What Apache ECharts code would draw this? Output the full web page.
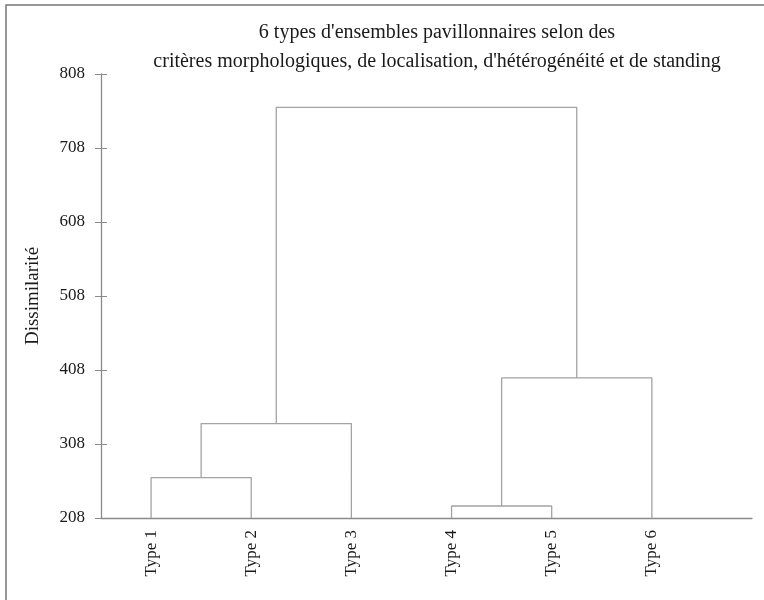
<!DOCTYPE html>
<html>
<head>
<meta charset="utf-8">
<script src="https://cdn.jsdelivr.net/npm/echarts@6/dist/echarts.min.js"></script>
<style>
  html, body { margin: 0; padding: 0; background: #fff; }
  #chart { width: 764px; height: 600px; }
</style>
</head>
<body>
<div id="chart"></div>
<script>
// feuilles du dendrogramme
var leafNames = ['Type 1', 'Type 2', 'Type 3', 'Type 4', 'Type 5', 'Type 6'];
var leafPos = [1, 2, 3, 4, 5, 6];
var baseHeight = 208;
// regroupements : enfant A, enfant B, niveau (indices >= 6 = groupes précédents)
var mergeA = [0, 3, 6, 7, 8];
var mergeB = [1, 4, 2, 5, 9];
var mergeHeight = [262.6, 224.2, 335.6, 397.3, 763];
var yTicks = [208, 308, 408, 508, 608, 708, 808];

var lineColor = '#a3a3a3';
var textColor = '#1a1a1a';
var font = 'Liberation Serif';

// position et hauteur de chaque noeud
var nodeX = leafPos.slice();
var nodeH = leafPos.map(function () { return baseHeight; });
var series = [];
for (var i = 0; i < mergeA.length; i++) {
    var a = mergeA[i], b = mergeB[i], h = mergeHeight[i];
    series.push({
        type: 'line',
        symbol: 'none',
        silent: true,
        lineStyle: { color: lineColor, width: 1.3 },
        data: [[nodeX[a], nodeH[a]], [nodeX[a], h], [nodeX[b], h], [nodeX[b], nodeH[b]]]
    });
    nodeX.push((nodeX[a] + nodeX[b]) / 2);
    nodeH.push(h);
}

var myChart = echarts.init(document.getElementById('chart'));
var option = {
    animation: false,
    backgroundColor: '#fff',
    title: {
        text: "6 types d'ensembles pavillonnaires selon des\ncritères morphologiques, de localisation, d'hétérogénéité et de standing",
        left: 432,
        top: 13,
        textAlign: 'center',
        textStyle: { fontFamily: font, fontSize: 20, fontWeight: 'normal', color: textColor, lineHeight: 29 }
    },
    graphic: [{
        type: 'polyline',
        silent: true,
        shape: { points: [[6, 600], [6, 5], [764, 5]] },
        style: { stroke: '#777', lineWidth: 1.5, fill: null }
    }],
    grid: { left: 101, right: 12, top: 74, bottom: 82 },
    xAxis: {
        type: 'value',
        min: 0.5,
        max: 7,
        axisLine: { lineStyle: { color: '#8a8a8a', width: 1.3 } },
        axisTick: { show: false },
        splitLine: { show: false },
        axisLabel: {
            customValues: leafPos,
            rotate: 90,
            margin: 12,
            fontFamily: font,
            fontSize: 17,
            color: textColor,
            formatter: function (v) { return leafNames[Math.round(v) - 1]; }
        }
    },
    yAxis: [{
        type: 'value',
        min: 208,
        max: 808,
        name: 'Dissimilarité',
        nameLocation: 'middle',
        nameGap: 58,
        nameTextStyle: { fontFamily: font, fontSize: 19, color: textColor },
        axisLine: { show: true, lineStyle: { color: '#8a8a8a', width: 1.3 } },
        axisTick: { show: true, customValues: yTicks, length: 6, lineStyle: { color: '#8a8a8a' } },
        splitLine: { show: false },
        axisLabel: { customValues: yTicks, margin: 16, fontFamily: font, fontSize: 17, color: textColor }
    }, {
        type: 'value',
        position: 'left',
        min: 208,
        max: 808,
        axisLine: { show: false },
        axisTick: { show: true, inside: true, customValues: yTicks, length: 6, lineStyle: { color: '#8a8a8a' } },
        splitLine: { show: false },
        axisLabel: { show: false }
    }],
    series: series
};
myChart.setOption(option);
</script>
</body>
</html>
